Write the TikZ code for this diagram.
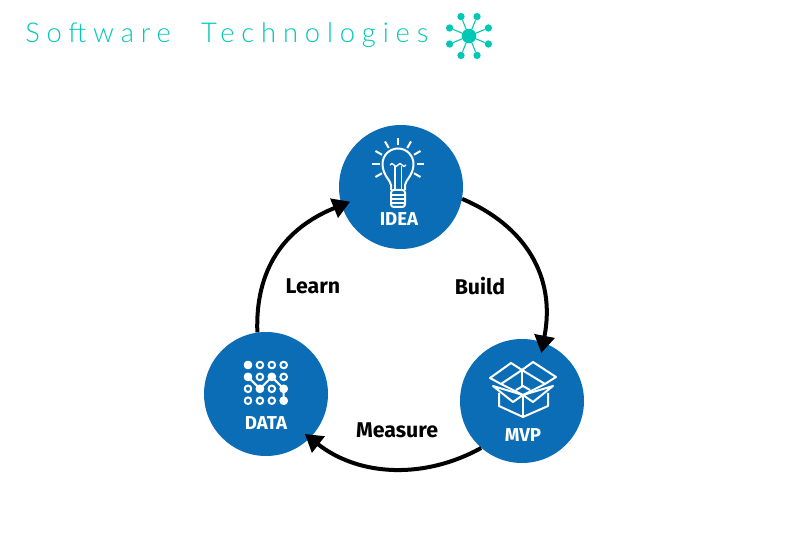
\documentclass[tikz,border=0pt]{standalone}
\usepackage{fontspec}
\setmainfont{Fira Sans}
\newfontfamily\titlefont[LetterSpace=25]{Lato Light}
\usetikzlibrary{arrows.meta,calc}
\definecolor{stageblue}{HTML}{0B6DB5}
\definecolor{logoteal}{HTML}{00C8B4}

\begin{document}
\begin{tikzpicture}[x=.75pt,y=.75pt,
stage/.style={fill=stageblue,circle,inner sep=0pt,minimum size=93pt},
stagename/.style={text=white,font=\bfseries\fontsize{14}{16}\selectfont},
steplabel/.style={text=black,font=\bfseries\fontsize{16}{18}\selectfont},
flow/.style={line width=3pt,-{Triangle[length=13pt,width=15pt]}},
icon/.style={draw=white,line width=1.5pt,line join=round},
 every node/.style={align=center}]
\useasboundingbox (0,0) rectangle (800,536);
%================================================================
%	Title
\node[anchor=base west,inner sep=0pt,text=logoteal,font=\titlefont\fontsize{20.5}{24}\selectfont] (title) at (25,493) {Software\hspace{12pt} Technologies};
\node[fill=logoteal,circle,inner sep=0pt,minimum size=11pt] (hub) at (469,500) {};
\foreach \a [count=\n] in {22.5,67.5,...,337.5}{
	\node[fill=logoteal,circle,inner sep=0pt,minimum size=5.5pt] (spoke\n) at ($(hub)+(\a:21)$) {};
	\draw[logoteal,line width=.8pt] (hub) -- (spoke\n);
}

%================================================================
%	Nodes
\node[stage] (idea) at (401,349) {};
\node[stage] (data) at (266,142) {};
\node[stage] (mvp) at (522,135) {};
%----------------------------------------------------------------
\node[stagename] (ideaname) at (399,317) {IDEA};
\node[stagename] (dataname) at (266,113) {DATA};
\node[stagename] (mvpname) at (523,101) {MVP};

%================================================================
%	Lines
\draw[flow,shorten >=-8pt] (idea.-11) to[out=-23,in=79,looseness=1.05] (mvp.70);
\draw[flow,shorten >=-5pt] (mvp.229) to[out=209,in=322,looseness=.95] (data.-45);
\draw[flow,shorten >=-7pt] (data.98) to[out=92,in=202,looseness=1.05] (idea.197);
%----------------------------------------------------------------
\node[steplabel] (learn) at (313,250) {Learn};
\node[steplabel] (build) at (480,250) {Build};
\node[steplabel] (measure) at (397,106) {Measure};

%================================================================
%	Bulb
\draw[icon] (391,346) -- (391,351) .. controls (391,355) and (382.5,361) .. (382.5,372)
	arc[start angle=180,end angle=0,radius=15.5]
	.. controls (413.5,361) and (405,355) .. (405,351) -- (405,346);
\draw[icon,rounded corners=2pt] (391,346) -- (391,329) -- (405,329) -- (405,346) -- cycle;
\foreach \y in {341,337,333}{
	\draw[icon] (391,\y) -- (405,\y);
}
\draw[icon,line width=1.2pt] (395,346) -- (395,370);
\draw[icon,line width=1.2pt] (401.5,346) -- (401.5,370);
\draw[icon,line width=1pt] (390,371) sin (392,372.5) cos (394,371) sin (396,369.5) cos (398,371) sin (400,372.5) cos (402,371) sin (404,369.5) cos (406,371);
\foreach \a in {-30,0,30,...,210}{
	\draw[icon] (398,372)++(\a:18.5) -- ++(\a:7.5);
}

%================================================================
%	Dots
\foreach \i in {0,1,2,3}{
	\foreach \j in {0,1,2,3}{
		\draw[icon] (248+11.9*\i,171-11.9*\j) circle[radius=3.3];
	}
}
\draw[icon] (248,159.1) -- (259.9,147.2) -- (271.8,159.1) -- (283.7,147.2) -- (283.7,135.3);
\foreach \i/\j in {0/0,0/1,1/2,2/1,3/2,3/3}{
	\fill[white] (248+11.9*\i,171-11.9*\j) circle[radius=4];
}

%================================================================
%	Box
\draw[icon] (490,158) -- (511,173) -- (522,166) -- (501,152) -- cycle;
\draw[icon] (522,166) -- (533,174) -- (556,159) -- (545,152) -- cycle;
\draw[icon] (501,152) -- (523,141) -- (545,152);
\draw[icon] (493,150) -- (523,141) -- (513,134) -- cycle;
\draw[icon] (553,150) -- (523,141) -- (533,134) -- cycle;
\draw[icon] (499,143) -- (499,130) -- (523,119) -- (548,130) -- (548,143);
\draw[icon] (523,141) -- (523,119);
\draw[icon] (522,166) -- (522,150);
\draw[icon] (516,146) -- (523,150) -- (530,146);
%================================================================
\end{tikzpicture}
\end{document}
